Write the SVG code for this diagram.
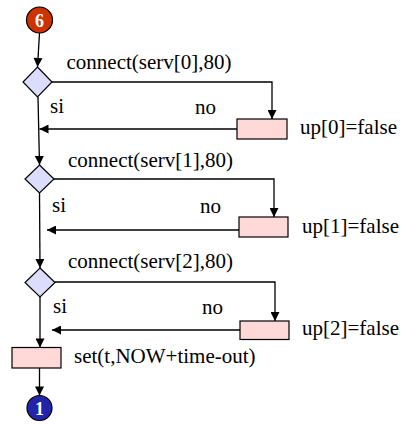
<svg xmlns="http://www.w3.org/2000/svg" width="405" height="425" viewBox="0 0 405 425">
  <defs>
    <marker id="arrow" viewBox="0 0 10 10" refX="10" refY="5" markerWidth="10" markerHeight="9" markerUnits="userSpaceOnUse" orient="auto">
      <path d="M0,0 L10,5 L0,10 Z" fill="#000"/>
    </marker>
  </defs>
  <style>
    .decision { fill: #dcdcfc; stroke: #000; stroke-width: 1.2; }
    .action { fill: #ffd8d8; stroke: #000; stroke-width: 1.2; }
    .flow { fill: none; stroke: #000; stroke-width: 1.3; }
    .arrow { marker-end: url(#arrow); }
  </style>

  <rect width="405" height="425" fill="#fff"/>

  <!-- connectors -->
  <g id="connectors">
    <path class="flow arrow" d="M39.5,33 L37.5,67"/>
    <path class="flow arrow" d="M52,82 H272 V119"/>
    <path class="flow arrow" d="M237,129 H39.5"/>
    <path class="flow arrow" d="M38,97 L39.5,165"/>
    <path class="flow arrow" d="M54,179 H274 V217"/>
    <path class="flow arrow" d="M239,230 H47"/>
    <path class="flow arrow" d="M39.5,193 L40,268"/>
    <path class="flow arrow" d="M55,282 H275 V321"/>
    <path class="flow arrow" d="M240,330 H52"/>
    <path class="flow arrow" d="M40,297 V347.5"/>
    <path class="flow arrow" d="M39.5,368 V395.5"/>
  </g>

  <!-- all labels share one serif face -->
  <g font-family="Liberation Serif, Times New Roman, DejaVu Serif, serif" font-size="21" fill="#000">

  <!-- entry connector 6 -->
  <g id="start">
    <circle cx="39.5" cy="20" r="13" fill="#cc3300" stroke="#000" stroke-width="1.2"/>
    <text x="39.5" y="26.5" text-anchor="middle" font-size="18" font-weight="bold" fill="#fff">6</text>
  </g>

  <!-- first server test -->
  <g id="test0">
    <polygon class="decision" points="37.5,67 52,82 37.5,97 23,82"/>
    <text x="66.5" y="69">connect(serv[0],80)</text>
    <text x="50" y="113">si</text>
    <text x="195" y="114">no</text>
  </g>
  <g id="down0">
    <rect class="action" x="237" y="119" width="50" height="20"/>
    <text x="300" y="134">up[0]=false</text>
  </g>

  <!-- second server test -->
  <g id="test1">
    <polygon class="decision" points="39.5,165 54,179 39.5,193 25,179"/>
    <text x="68" y="167">connect(serv[1],80)</text>
    <text x="52" y="212">si</text>
    <text x="200" y="213">no</text>
  </g>
  <g id="down1">
    <rect class="action" x="239" y="217" width="49" height="20"/>
    <text x="302" y="233">up[1]=false</text>
  </g>

  <!-- third server test -->
  <g id="test2">
    <polygon class="decision" points="40,268 55,282.5 40,297 25,282.5"/>
    <text x="68" y="268">connect(serv[2],80)</text>
    <text x="53" y="313">si</text>
    <text x="202" y="314">no</text>
  </g>
  <g id="down2">
    <rect class="action" x="240" y="321" width="49" height="18.5"/>
    <text x="302" y="335">up[2]=false</text>
  </g>

  <!-- timer -->
  <g id="timer">
    <rect class="action" x="12" y="347.5" width="49" height="20.5"/>
    <text x="74" y="363">set(t,NOW+time-out)</text>
  </g>

  <!-- exit connector 1 -->
  <g id="end">
    <circle cx="39.5" cy="408" r="12.5" fill="#2424a8" stroke="#000" stroke-width="1.2"/>
    <text x="39.5" y="414.5" text-anchor="middle" font-size="18" font-weight="bold" fill="#fff">1</text>
  </g>

  </g>
</svg>
